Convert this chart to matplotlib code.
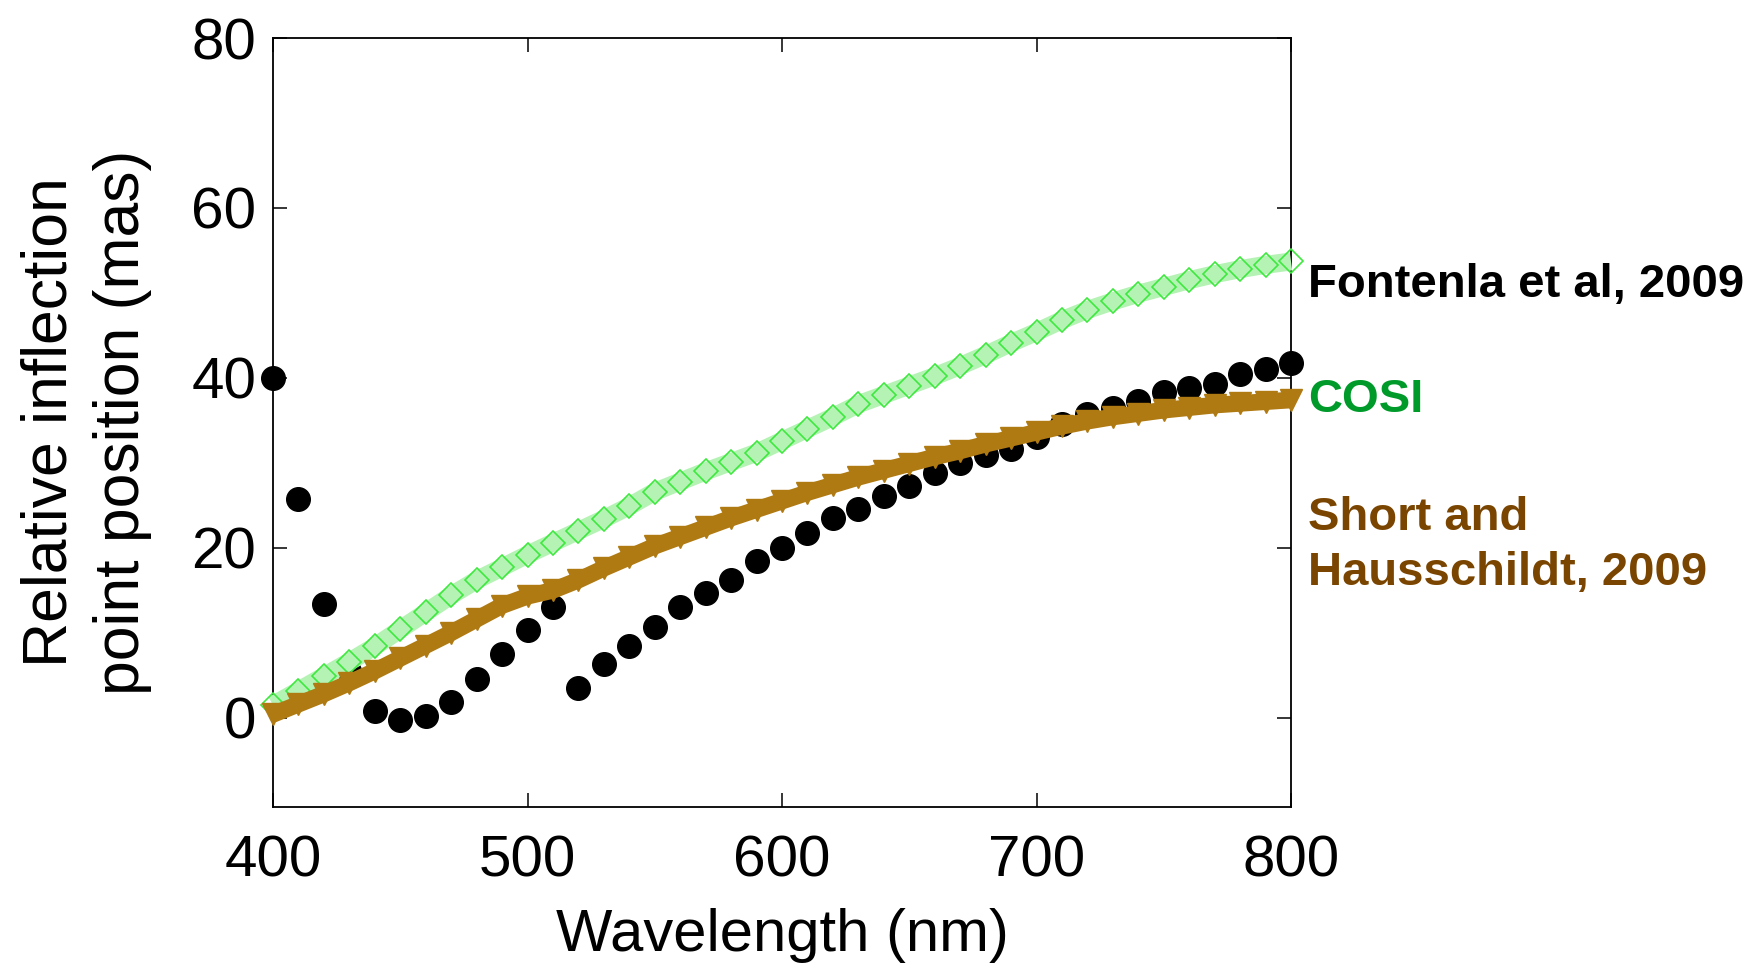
import matplotlib
matplotlib.use("Agg")
import matplotlib.pyplot as plt

plt.rcParams['font.family'] = ['Liberation Sans', 'DejaVu Sans']

# ---- data ----
wl_fontenla = [400, 410, 420, 430, 440, 450, 460, 470, 480, 490, 500, 510,
               520, 530, 540, 550, 560, 570, 580, 590, 600, 610, 620, 630,
               640, 650, 660, 670, 680, 690, 700, 710, 720, 730, 740, 750,
               760, 770, 780, 790, 800]
fontenla = [40.0, 25.7, 13.4, 5.5, 0.8, -0.3, 0.2, 1.9, 4.6, 7.5, 10.3, 13.0,
            3.5, 6.3, 8.5, 10.7, 13.0, 14.7, 16.2, 18.5, 20.0, 21.7, 23.5, 24.6,
            26.1, 27.3, 28.8, 30.0, 30.9, 31.6, 33.1, 34.6, 35.8, 36.4, 37.3, 38.3,
            38.8, 39.3, 40.5, 41.0, 41.7]

wl_model = [400, 410, 420, 430, 440, 450, 460, 470, 480, 490, 500, 510,
            520, 530, 540, 550, 560, 570, 580, 590, 600, 610, 620, 630,
            640, 650, 660, 670, 680, 690, 700, 710, 720, 730, 740, 750,
            760, 770, 780, 790, 800]
cosi = [1.5, 3.2, 4.9, 6.6, 8.4, 10.4, 12.4, 14.4, 16.2, 17.7, 19.2, 20.6,
        22.0, 23.4, 24.9, 26.6, 27.8, 29.0, 30.1, 31.2, 32.6, 34.0, 35.4, 36.9,
        38.0, 39.1, 40.2, 41.4, 42.7, 44.1, 45.4, 46.8, 48.0, 49.0, 49.9, 50.7,
        51.5, 52.2, 52.8, 53.3, 53.7]
short_hauschildt = [0.4, 1.6, 2.8, 4.1, 5.5, 7.0, 8.5, 10.0, 11.6, 13.2, 14.3, 15.0,
                    16.2, 17.6, 18.9, 20.2, 21.3, 22.4, 23.5, 24.5, 25.5, 26.5, 27.4, 28.3,
                    29.1, 29.9, 30.7, 31.4, 32.2, 32.9, 33.6, 34.3, 34.9, 35.4, 35.8, 36.2,
                    36.5, 36.8, 37.0, 37.2, 37.4]

x_ticks = [400, 500, 600, 700, 800]
y_ticks = [0, 20, 40, 60, 80]

labels = ["Fontenla et al, 2009", "COSI", "Short and\nHausschildt, 2009"]
label_colors = ["#000000", "#009a2a", "#7a4500"]

# ---- figure ----
fig = plt.figure(figsize=(17.62, 9.68), dpi=100)
ax = fig.add_axes([273 / 1762, 1 - 807 / 968, (1291 - 273) / 1762, (807 - 38) / 968])

ax.plot(wl_fontenla, fontenla, linestyle='none', marker='o', markersize=17,
        color='black', zorder=2, clip_on=False)
ax.plot(wl_model, cosi, color='#b5f3b5', linewidth=13, solid_capstyle='butt',
        zorder=3, clip_on=False)
ax.plot(wl_model, cosi, linestyle='none', marker='D', markersize=12,
        markerfacecolor='none', markeredgecolor='#3ee83e', markeredgewidth=1.2,
        zorder=4, clip_on=False)
ax.plot(wl_model, short_hauschildt, color='#b07a12', linewidth=12,
        solid_capstyle='butt', zorder=5, clip_on=False)
ax.plot(wl_model, short_hauschildt, linestyle='none', marker='v', markersize=16,
        color='#b07a12', zorder=6, clip_on=False)

ax.set_xlim(400, 800)
ax.set_ylim(-10.5, 80)
ax.set_xticks(x_ticks)
ax.set_yticks(y_ticks)
ax.tick_params(direction='in', length=10, width=1.1, labelsize=42,
               top=True, right=True)
ax.tick_params(axis='x', pad=20)
ax.tick_params(axis='y', pad=12)
for sp in ax.spines.values():
    sp.set_linewidth(1.3)

ax.set_xlabel("Wavelength (nm)", fontsize=43, labelpad=14)
ax.set_ylabel("Relative inflection\npoint position (mas)", fontsize=45,
              labelpad=28, linespacing=1.3)

# series labels at the right
fig.text(1308 / 1762, 1 - 297 / 968, labels[0], color=label_colors[0],
         fontsize=34, fontweight='bold', ha='left', va='baseline')
fig.text(1308 / 1762, 1 - 412 / 968, labels[1], color=label_colors[1],
         fontsize=34, fontweight='bold', ha='left', va='baseline')
fig.text(1308 / 1762, 1 - 585 / 968, labels[2], color=label_colors[2],
         fontsize=34, fontweight='bold', ha='left', va='baseline',
         linespacing=1.32)

fig.savefig("out.png", dpi=100)
